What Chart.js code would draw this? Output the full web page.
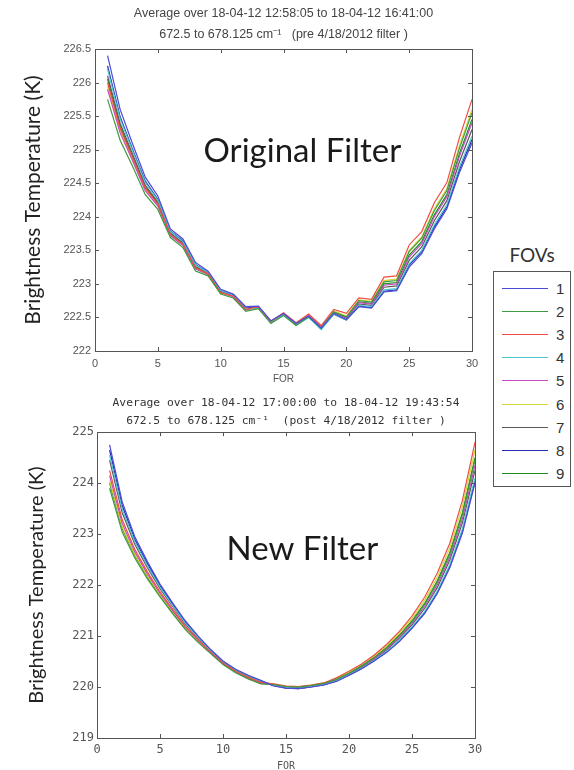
<!DOCTYPE html>
<html>
<head>
<meta charset="utf-8">
<script src="https://cdn.jsdelivr.net/npm/chart.js@4.4.1/dist/chart.umd.min.js"></script>
<style>
body{margin:0;background:#fff;width:574px;height:770px;overflow:hidden;position:relative;}
canvas{position:absolute;left:0;}
#js--chart--1{top:0;}
#js--chart--2{top:388px;}
#fovs{position:absolute;left:493px;top:243px;width:78px;text-align:center;font:19px Lato,sans-serif;color:#333;line-height:24px;}
#legend{position:absolute;left:493px;top:271px;width:76px;height:214px;border:1px solid #555;}
.item{position:absolute;left:8px;width:66px;height:16px;}
.item .l{position:absolute;left:0;top:8px;width:46px;border-top:1.5px solid;}
.item .n{position:absolute;left:54px;top:0;font:15px "Liberation Sans",Arial,sans-serif;color:#333;line-height:17px;}
</style>
</head>
<body>
<canvas id="js--chart--1" width="490" height="390"></canvas>
<canvas id="js--chart--2" width="490" height="384"></canvas>
<div id="fovs">FOVs</div>
<div id="legend"></div>
<script>
/* data */
const fors = [1,2,3,4,5,6,7,8,9,10,11,12,13,14,15,16,17,18,19,20,21,22,23,24,25,26,27,28,29,30];
const fovNames = ["1","2","3","4","5","6","7","8","9"];
const fovColors = ["#4b4bd6","#3f9a3f","#ee4d45","#4cc6cf","#c64cc6","#d6d63c","#5a5a5a","#2a2ab4","#1f8a1f"];

// Original Filter (pre 4/18/2012)
const pre1 = [226.40,225.60,225.08,224.59,224.31,223.82,223.67,223.32,223.19,222.92,222.85,222.66,222.67,222.45,222.56,222.41,222.52,222.34,222.56,222.47,222.66,222.64,222.88,222.90,223.25,223.45,223.82,224.12,224.66,225.10];
const pre2 = [225.75,225.14,224.75,224.33,224.11,223.69,223.54,223.19,223.12,222.85,222.79,222.59,222.63,222.41,222.53,222.38,222.51,222.34,222.58,222.51,222.75,222.73,223.03,223.05,223.48,223.68,224.09,224.39,225.02,225.55];
const pre3 = [226.00,225.32,224.88,224.43,224.19,223.74,223.59,223.24,223.15,222.87,222.82,222.62,222.66,222.44,222.57,222.42,222.55,222.38,222.62,222.56,222.79,222.77,223.10,223.12,223.58,223.78,224.21,224.51,225.18,225.75];
const pre4 = [226.20,225.46,224.98,224.51,224.25,223.78,223.63,223.28,223.17,222.90,222.83,222.63,222.64,222.42,222.54,222.38,222.50,222.32,222.55,222.46,222.68,222.66,222.91,222.93,223.30,223.50,223.88,224.18,224.74,225.20];
const pre5 = [225.90,225.25,224.83,224.39,224.16,223.72,223.57,223.22,223.14,222.87,222.81,222.61,222.66,222.44,222.56,222.41,222.53,222.36,222.58,222.50,222.72,222.70,222.98,223.00,223.40,223.60,224.00,224.30,224.90,225.40];
const pre6 = [225.95,225.28,224.85,224.41,224.17,223.73,223.58,223.23,223.14,222.87,222.81,222.61,222.65,222.43,222.55,222.40,222.53,222.36,222.60,222.52,222.76,222.74,223.05,223.07,223.50,223.70,224.12,224.42,225.06,225.60];
const pre7 = [226.10,225.39,224.93,224.47,224.22,223.76,223.61,223.26,223.16,222.89,222.82,222.62,222.65,222.43,222.55,222.40,222.52,222.35,222.57,222.49,222.70,222.68,222.95,222.97,223.35,223.55,223.94,224.24,224.82,225.30];
const pre8 = [226.25,225.49,225.00,224.53,224.26,223.79,223.64,223.29,223.17,222.90,222.84,222.64,222.66,222.44,222.56,222.40,222.51,222.33,222.55,222.46,222.67,222.65,222.89,222.91,223.28,223.48,223.85,224.15,224.70,225.15];
const pre9 = [226.05,225.35,224.90,224.45,224.20,223.75,223.60,223.25,223.15,222.88,222.82,222.62,222.65,222.43,222.55,222.40,222.52,222.35,222.58,222.51,222.73,222.71,223.00,223.02,223.43,223.63,224.03,224.33,224.94,225.45];

// New Filter (post 4/18/2012)
const post1 = [224.75,223.63,222.95,222.46,222.02,221.65,221.30,221.01,220.74,220.51,220.35,220.23,220.13,220.02,219.98,219.97,220.00,220.04,220.11,220.23,220.36,220.51,220.68,220.89,221.15,221.44,221.83,222.34,223.02,224.00];
const post2 = [223.90,223.04,222.53,222.12,221.77,221.44,221.13,220.88,220.66,220.44,220.28,220.16,220.06,220.05,220.01,220.00,220.03,220.07,220.15,220.27,220.41,220.58,220.77,221.01,221.28,221.62,222.05,222.61,223.38,224.45];
const post3 = [224.25,223.28,222.70,222.26,221.87,221.53,221.20,220.94,220.69,220.47,220.31,220.19,220.09,220.06,220.02,220.01,220.04,220.08,220.18,220.31,220.45,220.63,220.84,221.09,221.39,221.76,222.23,222.82,223.66,224.80];
const post4 = [224.55,223.49,222.85,222.38,221.96,221.60,221.26,220.98,220.72,220.50,220.34,220.22,220.12,220.03,219.99,219.98,220.01,220.05,220.12,220.24,220.37,220.52,220.70,220.92,221.18,221.48,221.88,222.40,223.10,224.10];
const post5 = [224.15,223.21,222.65,222.22,221.84,221.50,221.18,220.92,220.68,220.46,220.30,220.18,220.08,220.04,220.00,219.99,220.02,220.06,220.14,220.26,220.40,220.56,220.75,220.98,221.25,221.58,222.00,222.55,223.30,224.35];
const post6 = [224.05,223.14,222.60,222.18,221.81,221.48,221.16,220.91,220.67,220.46,220.30,220.18,220.08,220.06,220.02,220.01,220.04,220.08,220.16,220.29,220.44,220.61,220.81,221.06,221.34,221.70,222.15,222.73,223.54,224.65];
const post7 = [224.45,223.42,222.80,222.34,221.93,221.58,221.24,220.97,220.71,220.49,220.33,220.21,220.11,220.04,220.00,219.98,220.01,220.05,220.13,220.25,220.39,220.55,220.73,220.96,221.22,221.54,221.95,222.49,223.22,224.25];
const post8 = [224.65,223.56,222.90,222.42,221.99,221.63,221.28,220.99,220.73,220.50,220.34,220.22,220.12,220.03,219.98,219.97,220.00,220.04,220.12,220.23,220.36,220.52,220.69,220.91,221.16,221.46,221.85,222.37,223.06,224.05];
const post9 = [224.00,223.11,222.58,222.16,221.80,221.46,221.15,220.90,220.67,220.45,220.29,220.17,220.07,220.05,220.01,220.00,220.03,220.07,220.15,220.28,220.42,220.58,220.78,221.02,221.30,221.64,222.08,222.64,223.42,224.50];

const preSeries = [pre1,pre2,pre3,pre4,pre5,pre6,pre7,pre8,pre9];
const postSeries = [post1,post2,post3,post4,post5,post6,post7,post8,post9];

/* legend */
const legend = document.getElementById("legend");
fovNames.forEach(function(name, i){
    const item = document.createElement("div");
    item.className = "item";
    item.style.top = (8 + i * 23.1) + "px";
    item.innerHTML = '<span class="l" style="border-color:' + fovColors[i] + '"></span><span class="n">' + name + '</span>';
    legend.appendChild(item);
});

/* plugins: matlab style box with inward ticks, and big label */
const boxPlugin = {
    id: "matlabBox",
    afterDraw(chart){
        const ctx = chart.ctx;
        const a = chart.chartArea;
        const x = chart.scales.x, y = chart.scales.y;
        ctx.save();
        ctx.strokeStyle = "#555";
        ctx.lineWidth = 1;
        ctx.strokeRect(Math.round(a.left) + 0.5, Math.round(a.top) + 0.5, Math.round(a.right - a.left), Math.round(a.bottom - a.top));
        ctx.beginPath();
        x.ticks.forEach(function(t){
            const px = Math.round(x.getPixelForValue(t.value)) + 0.5;
            ctx.moveTo(px, a.bottom); ctx.lineTo(px, a.bottom - 4);
            ctx.moveTo(px, a.top); ctx.lineTo(px, a.top + 4);
        });
        y.ticks.forEach(function(t){
            const py = Math.round(y.getPixelForValue(t.value)) + 0.5;
            ctx.moveTo(a.left, py); ctx.lineTo(a.left + 4, py);
            ctx.moveTo(a.right, py); ctx.lineTo(a.right - 4, py);
        });
        ctx.stroke();
        ctx.restore();
    }
};

const labelPlugin = {
    id: "filterLabel",
    afterDatasetsDraw(chart, args, opts){
        const ctx = chart.ctx;
        ctx.save();
        ctx.font = opts.font;
        ctx.fillStyle = "#1a1a1a";
        ctx.textAlign = "center";
        ctx.textBaseline = "alphabetic";
        ctx.fillText(opts.text, chart.scales.x.getPixelForValue(opts.x), chart.scales.y.getPixelForValue(opts.y));
        ctx.restore();
    }
};

function tickText(value){
    return String(parseFloat(Number(value).toFixed(2)));
}

function makeDatasets(series){
    return series.map(function(vals, i){
        return {
            label: fovNames[i],
            data: vals.map(function(v, k){ return {x: fors[k], y: v}; }),
            borderColor: fovColors[i],
            borderWidth: 1.2,
            pointRadius: 0,
            tension: 0,
            fill: false
        };
    });
}

function makeConfig(opt){
    return {
        type: "line",
        data: { datasets: makeDatasets(opt.series) },
        plugins: [boxPlugin, labelPlugin],
        options: {
            responsive: false,
            animation: false,
            layout: { padding: { left: 0, right: opt.padRight, top: 0, bottom: 0 } },
            plugins: {
                legend: { display: false },
                tooltip: { enabled: false },
                title: {
                    display: true,
                    fullSize: false,
                    text: opt.title,
                    color: opt.titleColor,
                    font: opt.titleFont,
                    padding: opt.titlePad
                },
                filterLabel: opt.label
            },
            scales: {
                x: {
                    type: "linear",
                    min: 0, max: 30,
                    grid: { display: false, drawTicks: false },
                    border: { display: false },
                    ticks: { stepSize: 5, color: "#555", font: opt.tickFont, padding: opt.xTickPad, maxRotation: 0, callback: tickText },
                    title: { display: true, text: "FOR", color: "#555", font: opt.forFont, padding: { top: 0, bottom: opt.forPad } },
                    afterFit: function(s){ s.height = opt.xHeight; }
                },
                y: {
                    min: opt.yMin, max: opt.yMax,
                    grid: { display: false, drawTicks: false },
                    border: { display: false },
                    ticks: { stepSize: opt.yStep, color: "#555", font: opt.tickFont, padding: opt.yTickPad, callback: tickText },
                    title: { display: true, text: "Brightness Temperature (K)", color: "#222", font: { family: "Lato", size: opt.yTitleSize }, padding: { top: opt.yTitlePad, bottom: 0 } },
                    afterFit: function(s){ s.width = opt.yWidth; }
                }
            }
        }
    };
}

new Chart(document.getElementById("js--chart--1"), makeConfig({
    series: preSeries,
    padRight: 18,
    title: ["Average over 18-04-12 12:58:05 to 18-04-12 16:41:00", "672.5 to 678.125 cm\u207B\u00B9   (pre 4/18/2012 filter )"],
    titleColor: "#444",
    titleFont: { family: "Liberation Sans", size: 12.5, weight: "normal", lineHeight: 1.68 },
    titlePad: { top: 3.5, bottom: 3.5 },
    label: { text: "Original Filter", x: 16.5, y: 224.81, font: "33px Lato" },
    tickFont: { family: "Liberation Sans", size: 11 },
    forFont: { family: "Liberation Sans", size: 10 },
    xTickPad: 6,
    forPad: 5,
    xHeight: 39,
    yMin: 222, yMax: 226.5, yStep: 0.5,
    yTickPad: 4,
    yTitleSize: 21,
    yTitlePad: 21,
    yWidth: 95
}));

new Chart(document.getElementById("js--chart--2"), makeConfig({
    series: postSeries,
    padRight: 15,
    title: ["Average over 18-04-12 17:00:00 to 18-04-12 19:43:54", "672.5 to 678.125 cm\u207B\u00B9  (post 4/18/2012 filter )"],
    titleColor: "#333",
    titleFont: { family: "DejaVu Sans Mono", size: 11.3, weight: "normal", lineHeight: 1.6 },
    titlePad: { top: 6, bottom: 2 },
    label: { text: "New Filter", x: 16.3, y: 222.49, font: "33px Lato" },
    tickFont: { family: "DejaVu Sans Mono", size: 12 },
    forFont: { family: "DejaVu Sans Mono", size: 10 },
    xTickPad: 5,
    forPad: 0,
    xHeight: 34,
    yMin: 219, yMax: 225, yStep: 1,
    yTickPad: 3,
    yTitleSize: 20,
    yTitlePad: 25,
    yWidth: 97
}));
</script>
</body>
</html>
